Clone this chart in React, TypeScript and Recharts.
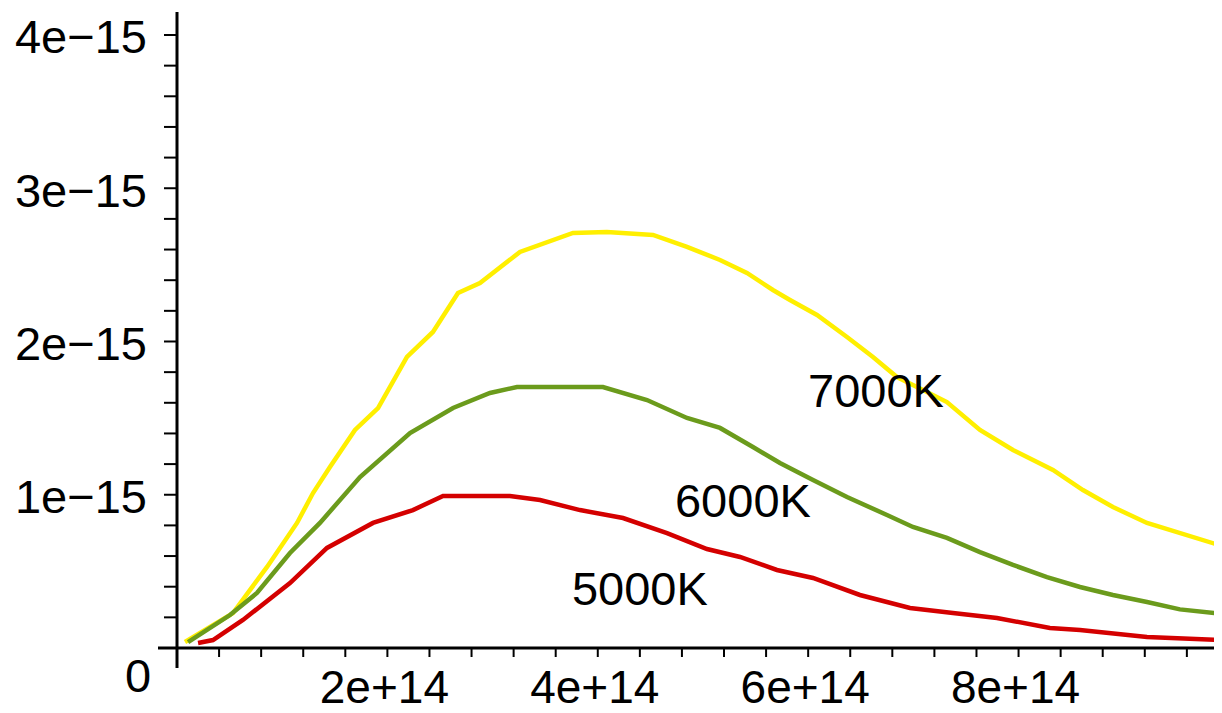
import React from "react";
import { LineChart, Line, XAxis, YAxis, ReferenceDot } from "recharts";

// 7000K (yellow)
const freq7000 = [0.076e14, 0.532e14, 0.856e14, 1.141e14, 1.293e14, 1.454e14, 1.692e14, 1.911e14, 2.186e14, 2.433e14, 2.671e14, 2.88e14, 3.26e14, 3.764e14, 4.087e14, 4.525e14, 4.848e14, 5.162e14, 5.418e14, 5.665e14, 5.827e14, 6.084e14, 6.369e14, 6.616e14, 6.844e14, 7.091e14, 7.319e14, 7.633e14, 7.947e14, 8.327e14, 8.612e14, 8.897e14, 9.221e14, 9.934e14];
const rad7000 = [0.039e-15, 0.228e-15, 0.529e-15, 0.816e-15, 1.011e-15, 1.181e-15, 1.423e-15, 1.566e-15, 1.899e-15, 2.062e-15, 2.316e-15, 2.382e-15, 2.584e-15, 2.708e-15, 2.714e-15, 2.695e-15, 2.617e-15, 2.532e-15, 2.447e-15, 2.336e-15, 2.271e-15, 2.173e-15, 2.029e-15, 1.899e-15, 1.768e-15, 1.684e-15, 1.605e-15, 1.423e-15, 1.292e-15, 1.162e-15, 1.031e-15, 0.92e-15, 0.816e-15, 0.666e-15];

// 6000K (green)
const freq6000 = [0.105e14, 0.504e14, 0.76e14, 1.074e14, 1.359e14, 1.74e14, 2.215e14, 2.624e14, 2.975e14, 3.232e14, 4.049e14, 4.468e14, 4.848e14, 5.162e14, 5.475e14, 5.732e14, 6.046e14, 6.369e14, 6.749e14, 6.996e14, 7.319e14, 7.633e14, 7.947e14, 8.27e14, 8.584e14, 8.897e14, 9.221e14, 9.534e14, 9.934e14];
const rad6000 = [0.039e-15, 0.215e-15, 0.359e-15, 0.62e-15, 0.816e-15, 1.116e-15, 1.403e-15, 1.566e-15, 1.664e-15, 1.703e-15, 1.703e-15, 1.618e-15, 1.501e-15, 1.436e-15, 1.312e-15, 1.207e-15, 1.096e-15, 0.985e-15, 0.868e-15, 0.79e-15, 0.718e-15, 0.626e-15, 0.542e-15, 0.463e-15, 0.398e-15, 0.346e-15, 0.3e-15, 0.252e-15, 0.222e-15];

// 5000K (red)
const freq5000 = [0.2e14, 0.342e14, 0.627e14, 1.074e14, 1.426e14, 1.863e14, 2.243e14, 2.529e14, 3.165e14, 3.451e14, 3.831e14, 4.24e14, 4.658e14, 5.038e14, 5.352e14, 5.703e14, 6.046e14, 6.492e14, 6.968e14, 7.376e14, 7.795e14, 8.298e14, 8.584e14, 9.221e14, 9.934e14];
const rad5000 = [0.033e-15, 0.052e-15, 0.183e-15, 0.424e-15, 0.653e-15, 0.816e-15, 0.9e-15, 0.992e-15, 0.992e-15, 0.966e-15, 0.9e-15, 0.848e-15, 0.75e-15, 0.646e-15, 0.594e-15, 0.509e-15, 0.457e-15, 0.346e-15, 0.261e-15, 0.228e-15, 0.196e-15, 0.131e-15, 0.117e-15, 0.072e-15, 0.052e-15];

const curveLabels = [
  { text: "7000K", x: 6.645e14, y: 1.684e-15 },
  { text: "6000K", x: 5.38e14, y: 0.966e-15 },
  { text: "5000K", x: 4.4e14, y: 0.392e-15 },
];

const xLabelTicks = [2e14, 4e14, 6e14, 8e14];
const yLabelTicks = [1e-15, 2e-15, 3e-15, 4e-15];
const xMinorStep = 0.4e14;
const yMinorStep = 0.2e-15;

const xTicks = Array.from({ length: 25 }, (_, i) => i * xMinorStep);
const yTicks = Array.from({ length: 21 }, (_, i) => i * yMinorStep);

const FONT = "'Liberation Sans', Arial, sans-serif";
const FS = 47;

const toPoints = (xs: number[], ys: number[]) => xs.map((x, i) => ({ x, y: ys[i] }));
const isLabel = (v: number, list: number[]) => list.find((m) => Math.abs(v - m) < m * 1e-6);

function fmt(v: number) {
  const [m, e] = v.toExponential(0).split("e");
  const ex = Number(e);
  return `${m}e${ex < 0 ? "\u2212" : "+"}${Math.abs(ex)}`;
}

function XTick(props: any) {
  const { x, y, payload } = props;
  const v = payload.value;
  if (Math.abs(v) < 1) {
    return <line x1={x} x2={x} y1={y} y2={y + 20} stroke="#000" strokeWidth={3} />;
  }
  const lab = isLabel(v, xLabelTicks);
  return (
    <g>
      <line x1={x} x2={x} y1={y} y2={y + 9} stroke="#000" strokeWidth={2} />
      {lab !== undefined && (
        <text x={x - 3} y={y + 55} textAnchor="middle" fontSize={46} fontFamily={FONT} fill="#000">
          {fmt(lab)}
        </text>
      )}
    </g>
  );
}

function YTick(props: any) {
  const { x, y, payload } = props;
  const v = payload.value;
  if (v === 0) {
    return (
      <g>
        <line x1={x - 19} x2={x} y1={y} y2={y} stroke="#000" strokeWidth={3} />
        <text x={x - 39} y={y + 27} textAnchor="middle" dominantBaseline="central" fontSize={FS} fontFamily={FONT} fill="#000">
          0
        </text>
      </g>
    );
  }
  const lab = isLabel(v, yLabelTicks);
  return (
    <g>
      <line x1={x - 13} x2={x} y1={y} y2={y} stroke="#000" strokeWidth={2} />
      {lab !== undefined && (
        <text x={x - 30} y={y + 2} textAnchor="end" dominantBaseline="central" fontSize={FS} fontFamily={FONT} fill="#000">
          {fmt(lab)}
        </text>
      )}
    </g>
  );
}

export default function App() {
  return (
    <div style={{ margin: -8, width: 1222, height: 713, overflow: "hidden", background: "#fff" }}>
      <LineChart width={1222} height={713} margin={{ top: 12, right: 0, bottom: 0, left: 0 }}>
        <XAxis
          type="number"
          dataKey="x"
          domain={[0, 9.934e14]}
          allowDataOverflow
          ticks={xTicks}
          interval={0}
          tick={<XTick />}
          tickLine={false}
          tickSize={0}
          tickMargin={0}
          height={65}
          axisLine={{ stroke: "#000", strokeWidth: 3 }}
        />
        <YAxis
          type="number"
          dataKey="y"
          domain={[0, 4.15e-15]}
          allowDataOverflow
          ticks={yTicks}
          interval={0}
          tick={<YTick />}
          tickLine={false}
          tickSize={0}
          tickMargin={0}
          width={177}
          axisLine={{ stroke: "#000", strokeWidth: 3 }}
        />
        <Line data={toPoints(freq7000, rad7000)} dataKey="y" type="linear" stroke="#FFEF00" strokeWidth={4.5} dot={false} isAnimationActive={false} />
        <Line data={toPoints(freq6000, rad6000)} dataKey="y" type="linear" stroke="#6B9B1C" strokeWidth={4.5} dot={false} isAnimationActive={false} />
        <Line data={toPoints(freq5000, rad5000)} dataKey="y" type="linear" stroke="#D40000" strokeWidth={4.5} dot={false} isAnimationActive={false} />
        {curveLabels.map((c) => (
          <ReferenceDot
            key={c.text}
            x={c.x}
            y={c.y}
            r={1}
            fill="none"
            stroke="none"
            label={{ value: c.text, position: "center", fontSize: FS, fontFamily: FONT, fill: "#000" }}
          />
        ))}
      </LineChart>
    </div>
  );
}
